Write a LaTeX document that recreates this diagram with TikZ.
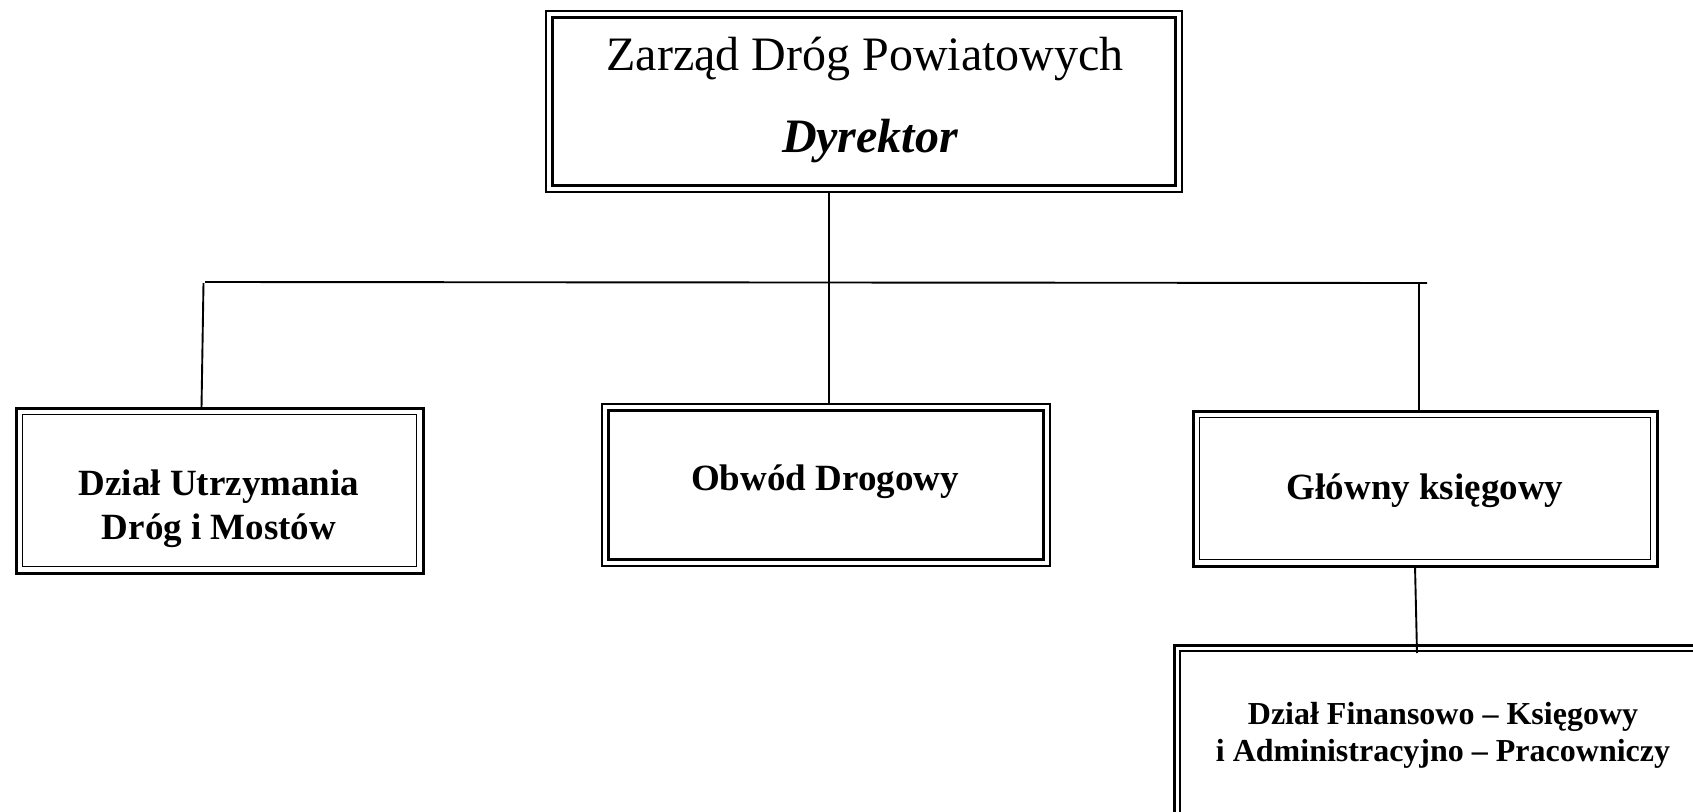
\documentclass[tikz,border=0pt]{standalone}
\usepackage{fontspec}
\setmainfont{Liberation Serif}
\begin{document}
\begin{tikzpicture}[x=1pt,y=-1pt,
  conn/.style={line width=1.9pt, black},
  boxthin/.style={draw, line width=1.8pt, outer sep=0pt, inner sep=0pt},
  boxthick/.style={draw, line width=3pt, outer sep=0pt, inner sep=0pt},
  innerthin/.style={line width=1.7pt},
  innerthick/.style={line width=3pt},
  txt/.style={inner sep=0pt, align=center}]
\useasboundingbox (0,0) rectangle (1693,811);
\clip (0,0) rectangle (1693,811);
% boxes
\node[boxthin, minimum width=636pt, minimum height=181pt] (top) at (864,101.5) {};
\node[boxthick, minimum width=407pt, minimum height=165pt] (b1) at (219.5,490.5) {};
\node[boxthin, minimum width=448pt, minimum height=162pt] (b2) at (826,485) {};
\node[boxthick, minimum width=464pt, minimum height=155pt] (b3) at (1425,488.5) {};
\node[boxthick, minimum width=536pt, minimum height=186pt] (b4) at (1442,738) {};
% inner lines of the double borders
\draw[innerthick] ([shift={(6.5pt,-6.5pt)}]top.north west) rectangle ([shift={(-6.5pt,6.5pt)}]top.south east);
\draw[innerthin] ([shift={(6.5pt,-6.5pt)}]b1.north west) rectangle ([shift={(-6.5pt,6.5pt)}]b1.south east);
\draw[innerthick] ([shift={(6.5pt,-6.5pt)}]b2.north west) rectangle ([shift={(-6.5pt,6.5pt)}]b2.south east);
\draw[innerthin] ([shift={(6.5pt,-6.5pt)}]b3.north west) rectangle ([shift={(-6.5pt,6.5pt)}]b3.south east);
\draw[innerthin] ([shift={(6pt,-6pt)}]b4.north west) rectangle ([shift={(-6pt,6pt)}]b4.south east);
% texts
\node[txt, anchor=base, font=\fontsize{48}{58}\selectfont] (t1) at (865,70) {Zarząd Dróg Powiatowych};
\node[txt, anchor=base, font=\fontsize{48}{58}\selectfont\bfseries\itshape] (t2) at (870,152) {Dyrektor};
\node[txt, font=\fontsize{37}{44}\selectfont\bfseries] (tx1) at (219,508.5) {Dział Utrzymania\\Dróg i Mostów};
\node[txt, anchor=base, font=\fontsize{37}{40}\selectfont\bfseries] (tx2) at (825,490) {Obwód Drogowy};
\node[txt, anchor=base, font=\fontsize{37}{40}\selectfont\bfseries] (tx3) at (1425,499) {Główny księgowy};
\node[txt, font=\fontsize{32}{36.5}\selectfont\bfseries] (tx4) at (1443,735.5) {Dział Finansowo – Księgowy\\i Administracyjno – Pracowniczy};
% connectors
\coordinate (bl) at (205,282);
\coordinate (br) at (1427,283);
\coordinate (cx) at (829,282);
\coordinate (l1) at (203.5,283);
\coordinate (l2) at (201.5,0);
\coordinate (r1) at (1419,282);
\coordinate (g1) at (1415,0);
\coordinate (gk) at (1417,653);
\draw[conn] (bl) -- (br);
\draw[conn] (top.south -| cx) -- (b2.north -| cx);
\draw[conn] (l1) -- (l2 |- b1.north);
\draw[conn] (r1) -- (r1 |- b3.north);
\draw[conn] (b3.south -| g1) -- (gk);
\end{tikzpicture}
\end{document}
